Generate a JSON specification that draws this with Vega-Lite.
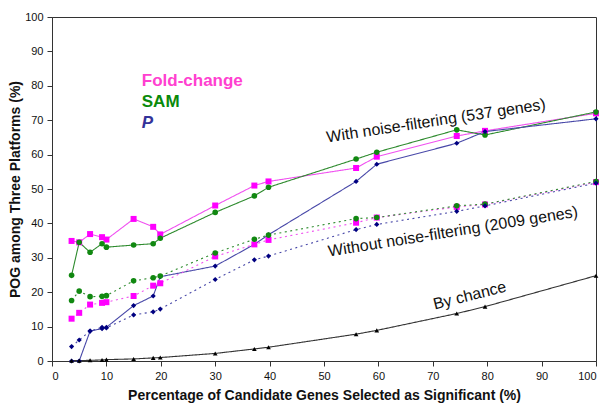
{
  "$schema": "https://vega.github.io/schema/vega-lite/v6.json",
  "width": 544,
  "height": 344,
  "autosize": {"type": "none"},
  "padding": {"left": 52, "top": 17, "right": 10, "bottom": 45},
  "background": "white",
  "config": {
    "font": "Liberation Sans",
    "view": {"stroke": "#333", "strokeWidth": 1},
    "axis": {"grid": false, "domainColor": "#333", "tickColor": "#333", "labelColor": "#111", "titleColor": "#111", "labelFontSize": 11, "titleFontSize": 14, "titleFontWeight": "bold", "tickSize": 5, "labelPadding": 4, "labelOverlap": false, "tickCount": 10},
    "axisX": {"titlePadding": 7},
    "axisY": {"titlePadding": 2}
  },
  "datasets": {
    "series": [
      {"pct": 3.6, "pog": 34.9, "method": "Fold-change", "set": "filtered"},
      {"pct": 5, "pog": 34.5, "method": "Fold-change", "set": "filtered"},
      {"pct": 7, "pog": 36.9, "method": "Fold-change", "set": "filtered"},
      {"pct": 9.2, "pog": 36.0, "method": "Fold-change", "set": "filtered"},
      {"pct": 10, "pog": 35.3, "method": "Fold-change", "set": "filtered"},
      {"pct": 15, "pog": 41.3, "method": "Fold-change", "set": "filtered"},
      {"pct": 18.6, "pog": 39.0, "method": "Fold-change", "set": "filtered"},
      {"pct": 19.9, "pog": 36.8, "method": "Fold-change", "set": "filtered"},
      {"pct": 30, "pog": 45.2, "method": "Fold-change", "set": "filtered"},
      {"pct": 37.2, "pog": 51.0, "method": "Fold-change", "set": "filtered"},
      {"pct": 39.8, "pog": 52.2, "method": "Fold-change", "set": "filtered"},
      {"pct": 55.9, "pog": 56.1, "method": "Fold-change", "set": "filtered"},
      {"pct": 59.7, "pog": 59.4, "method": "Fold-change", "set": "filtered"},
      {"pct": 74.4, "pog": 65.4, "method": "Fold-change", "set": "filtered"},
      {"pct": 79.6, "pog": 66.9, "method": "Fold-change", "set": "filtered"},
      {"pct": 100, "pog": 72.0, "method": "Fold-change", "set": "filtered"},

      {"pct": 3.6, "pog": 24.9, "method": "SAM", "set": "filtered"},
      {"pct": 5, "pog": 34.5, "method": "SAM", "set": "filtered"},
      {"pct": 7, "pog": 31.6, "method": "SAM", "set": "filtered"},
      {"pct": 9.2, "pog": 34.1, "method": "SAM", "set": "filtered"},
      {"pct": 10, "pog": 33.1, "method": "SAM", "set": "filtered"},
      {"pct": 15, "pog": 33.7, "method": "SAM", "set": "filtered"},
      {"pct": 18.6, "pog": 34.1, "method": "SAM", "set": "filtered"},
      {"pct": 19.9, "pog": 35.7, "method": "SAM", "set": "filtered"},
      {"pct": 30, "pog": 43.2, "method": "SAM", "set": "filtered"},
      {"pct": 37.2, "pog": 48.0, "method": "SAM", "set": "filtered"},
      {"pct": 39.8, "pog": 50.5, "method": "SAM", "set": "filtered"},
      {"pct": 55.9, "pog": 58.7, "method": "SAM", "set": "filtered"},
      {"pct": 59.7, "pog": 60.7, "method": "SAM", "set": "filtered"},
      {"pct": 74.4, "pog": 67.2, "method": "SAM", "set": "filtered"},
      {"pct": 79.6, "pog": 65.7, "method": "SAM", "set": "filtered"},
      {"pct": 100, "pog": 72.4, "method": "SAM", "set": "filtered"},

      {"pct": 3.6, "pog": 0, "method": "P", "set": "filtered"},
      {"pct": 5, "pog": 0, "method": "P", "set": "filtered"},
      {"pct": 7, "pog": 8.7, "method": "P", "set": "filtered"},
      {"pct": 9.2, "pog": 9.4, "method": "P", "set": "filtered"},
      {"pct": 10, "pog": 9.8, "method": "P", "set": "filtered"},
      {"pct": 15, "pog": 16.1, "method": "P", "set": "filtered"},
      {"pct": 18.6, "pog": 18.9, "method": "P", "set": "filtered"},
      {"pct": 19.9, "pog": 24.5, "method": "P", "set": "filtered"},
      {"pct": 30, "pog": 27.6, "method": "P", "set": "filtered"},
      {"pct": 37.2, "pog": 33.9, "method": "P", "set": "filtered"},
      {"pct": 39.8, "pog": 36.7, "method": "P", "set": "filtered"},
      {"pct": 55.9, "pog": 52.2, "method": "P", "set": "filtered"},
      {"pct": 59.7, "pog": 57.2, "method": "P", "set": "filtered"},
      {"pct": 74.4, "pog": 63.3, "method": "P", "set": "filtered"},
      {"pct": 79.6, "pog": 66.7, "method": "P", "set": "filtered"},
      {"pct": 100, "pog": 70.4, "method": "P", "set": "filtered"},

      {"pct": 3.6, "pog": 12.3, "method": "Fold-change", "set": "unfiltered"},
      {"pct": 5, "pog": 14.0, "method": "Fold-change", "set": "unfiltered"},
      {"pct": 7, "pog": 16.4, "method": "Fold-change", "set": "unfiltered"},
      {"pct": 9.2, "pog": 16.9, "method": "Fold-change", "set": "unfiltered"},
      {"pct": 10, "pog": 17.1, "method": "Fold-change", "set": "unfiltered"},
      {"pct": 15, "pog": 18.9, "method": "Fold-change", "set": "unfiltered"},
      {"pct": 18.6, "pog": 21.9, "method": "Fold-change", "set": "unfiltered"},
      {"pct": 19.9, "pog": 22.6, "method": "Fold-change", "set": "unfiltered"},
      {"pct": 30, "pog": 30.4, "method": "Fold-change", "set": "unfiltered"},
      {"pct": 37.2, "pog": 33.9, "method": "Fold-change", "set": "unfiltered"},
      {"pct": 39.8, "pog": 35.2, "method": "Fold-change", "set": "unfiltered"},
      {"pct": 55.9, "pog": 40.2, "method": "Fold-change", "set": "unfiltered"},
      {"pct": 59.7, "pog": 41.7, "method": "Fold-change", "set": "unfiltered"},
      {"pct": 74.4, "pog": 44.8, "method": "Fold-change", "set": "unfiltered"},
      {"pct": 79.6, "pog": 45.5, "method": "Fold-change", "set": "unfiltered"},
      {"pct": 100, "pog": 52.0, "method": "Fold-change", "set": "unfiltered"},

      {"pct": 3.6, "pog": 17.6, "method": "SAM", "set": "unfiltered"},
      {"pct": 5, "pog": 20.3, "method": "SAM", "set": "unfiltered"},
      {"pct": 7, "pog": 18.7, "method": "SAM", "set": "unfiltered"},
      {"pct": 9.2, "pog": 18.8, "method": "SAM", "set": "unfiltered"},
      {"pct": 10, "pog": 19.0, "method": "SAM", "set": "unfiltered"},
      {"pct": 15, "pog": 23.3, "method": "SAM", "set": "unfiltered"},
      {"pct": 18.6, "pog": 24.2, "method": "SAM", "set": "unfiltered"},
      {"pct": 19.9, "pog": 24.7, "method": "SAM", "set": "unfiltered"},
      {"pct": 30, "pog": 31.4, "method": "SAM", "set": "unfiltered"},
      {"pct": 37.2, "pog": 35.4, "method": "SAM", "set": "unfiltered"},
      {"pct": 39.8, "pog": 36.6, "method": "SAM", "set": "unfiltered"},
      {"pct": 55.9, "pog": 41.4, "method": "SAM", "set": "unfiltered"},
      {"pct": 59.7, "pog": 41.7, "method": "SAM", "set": "unfiltered"},
      {"pct": 74.4, "pog": 45.1, "method": "SAM", "set": "unfiltered"},
      {"pct": 79.6, "pog": 45.6, "method": "SAM", "set": "unfiltered"},
      {"pct": 100, "pog": 52.2, "method": "SAM", "set": "unfiltered"},

      {"pct": 3.6, "pog": 4.2, "method": "P", "set": "unfiltered"},
      {"pct": 5, "pog": 6.1, "method": "P", "set": "unfiltered"},
      {"pct": 7, "pog": 8.7, "method": "P", "set": "unfiltered"},
      {"pct": 9.2, "pog": 9.8, "method": "P", "set": "unfiltered"},
      {"pct": 10, "pog": 9.6, "method": "P", "set": "unfiltered"},
      {"pct": 15, "pog": 13.4, "method": "P", "set": "unfiltered"},
      {"pct": 18.6, "pog": 14.3, "method": "P", "set": "unfiltered"},
      {"pct": 19.9, "pog": 15.1, "method": "P", "set": "unfiltered"},
      {"pct": 30, "pog": 23.7, "method": "P", "set": "unfiltered"},
      {"pct": 37.2, "pog": 29.4, "method": "P", "set": "unfiltered"},
      {"pct": 39.8, "pog": 30.5, "method": "P", "set": "unfiltered"},
      {"pct": 55.9, "pog": 38.2, "method": "P", "set": "unfiltered"},
      {"pct": 59.7, "pog": 39.7, "method": "P", "set": "unfiltered"},
      {"pct": 74.4, "pog": 43.5, "method": "P", "set": "unfiltered"},
      {"pct": 79.6, "pog": 45.1, "method": "P", "set": "unfiltered"},
      {"pct": 100, "pog": 51.7, "method": "P", "set": "unfiltered"},

      {"pct": 3.6, "pog": 0.1, "method": "Chance", "set": "chance"},
      {"pct": 5, "pog": 0.1, "method": "Chance", "set": "chance"},
      {"pct": 7, "pog": 0.2, "method": "Chance", "set": "chance"},
      {"pct": 9.2, "pog": 0.3, "method": "Chance", "set": "chance"},
      {"pct": 10, "pog": 0.4, "method": "Chance", "set": "chance"},
      {"pct": 15, "pog": 0.6, "method": "Chance", "set": "chance"},
      {"pct": 18.6, "pog": 0.9, "method": "Chance", "set": "chance"},
      {"pct": 19.9, "pog": 1.0, "method": "Chance", "set": "chance"},
      {"pct": 30, "pog": 2.2, "method": "Chance", "set": "chance"},
      {"pct": 37.2, "pog": 3.5, "method": "Chance", "set": "chance"},
      {"pct": 39.8, "pog": 4.0, "method": "Chance", "set": "chance"},
      {"pct": 55.9, "pog": 7.8, "method": "Chance", "set": "chance"},
      {"pct": 59.7, "pog": 8.9, "method": "Chance", "set": "chance"},
      {"pct": 74.4, "pog": 13.8, "method": "Chance", "set": "chance"},
      {"pct": 79.6, "pog": 15.8, "method": "Chance", "set": "chance"},
      {"pct": 100, "pog": 24.8, "method": "Chance", "set": "chance"}
    ],
    "labels": [{"label": "annotation"}]
  },
  "layer": [
    {
      "data": {"name": "series"},
      "mark": {"type": "line", "strokeWidth": 1.1},
      "encoding": {
        "x": {"field": "pct", "type": "quantitative", "scale": {"domain": [0, 100], "nice": false},
          "title": "Percentage of Candidate Genes Selected as Significant (%)"},
        "y": {"field": "pog", "type": "quantitative", "scale": {"domain": [0, 100], "nice": false},
          "title": "POG among Three Platforms (%)"},
        "detail": {"field": "set"},
        "color": {"field": "method", "type": "nominal", "legend": null,
          "scale": {"domain": ["Fold-change", "SAM", "P", "Chance"], "range": ["#F050F0", "#2E8B2E", "#4848A8", "#333333"]}},
        "strokeDash": {"field": "set", "type": "nominal", "legend": null,
          "scale": {"domain": ["filtered", "unfiltered", "chance"], "range": [[1, 0], [2, 3.5], [1, 0]]}},
        "strokeWidth": {"field": "set", "type": "nominal", "legend": null,
          "scale": {"domain": ["filtered", "unfiltered", "chance"], "range": [1, 1.8, 1]}}
      }
    },
    {
      "data": {"name": "series"},
      "mark": {"type": "point", "filled": true, "opacity": 1, "strokeWidth": 0},
      "encoding": {
        "x": {"field": "pct", "type": "quantitative", "title": "Percentage of Candidate Genes Selected as Significant (%)"},
        "y": {"field": "pog", "type": "quantitative", "title": "POG among Three Platforms (%)"},
        "fill": {"field": "method", "type": "nominal", "legend": null,
          "scale": {"domain": ["Fold-change", "SAM", "P", "Chance"], "range": ["#FF00FF", "#118811", "#000080", "#000000"]}},
        "shape": {"field": "method", "type": "nominal", "legend": null,
          "scale": {"domain": ["Fold-change", "SAM", "P", "Chance"], "range": ["square", "circle", "diamond", "triangle-up"]}},
        "size": {"field": "method", "type": "nominal", "legend": null,
          "scale": {"domain": ["Fold-change", "SAM", "P", "Chance"], "range": [36, 22, 26, 28]}}
      }
    },
    {
      "data": {"name": "labels"},
      "mark": {"type": "text", "text": "Fold-change", "align": "left", "baseline": "middle", "fontSize": 17, "fontWeight": "bold", "color": "#FF40D0"},
      "encoding": {"x": {"datum": 16.5}, "y": {"datum": 81.4}}
    },
    {
      "data": {"name": "labels"},
      "mark": {"type": "text", "text": "SAM", "align": "left", "baseline": "middle", "fontSize": 17, "fontWeight": "bold", "color": "#0A8A0A"},
      "encoding": {"x": {"datum": 16.5}, "y": {"datum": 75.4}}
    },
    {
      "data": {"name": "labels"},
      "mark": {"type": "text", "text": "P", "align": "left", "baseline": "middle", "fontSize": 17, "fontWeight": "bold", "fontStyle": "italic", "color": "#333399"},
      "encoding": {"x": {"datum": 16.5}, "y": {"datum": 69.2}}
    },
    {
      "data": {"name": "labels"},
      "mark": {"type": "text", "text": "With noise-filtering (537 genes)", "align": "center", "baseline": "middle", "fontSize": 16, "angle": -8.6, "color": "#111"},
      "encoding": {"x": {"datum": 70.6}, "y": {"datum": 69.8}}
    },
    {
      "data": {"name": "labels"},
      "mark": {"type": "text", "text": "Without noise-filtering (2009 genes)", "align": "center", "baseline": "middle", "fontSize": 16, "angle": -9.1, "color": "#111"},
      "encoding": {"x": {"datum": 73.7}, "y": {"datum": 37.6}}
    },
    {
      "data": {"name": "labels"},
      "mark": {"type": "text", "text": "By chance", "align": "center", "baseline": "middle", "fontSize": 16, "angle": -14, "color": "#111"},
      "encoding": {"x": {"datum": 76.8}, "y": {"datum": 19.0}}
    }
  ]
}
